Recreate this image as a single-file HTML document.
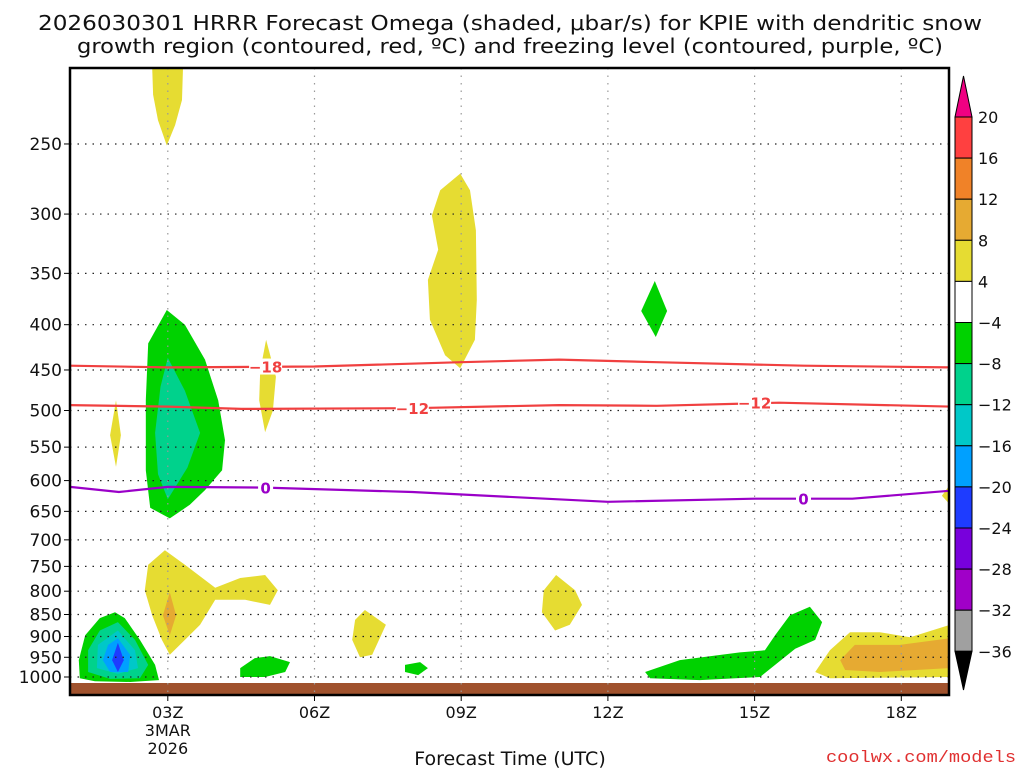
<!DOCTYPE html>
<html><head><meta charset="utf-8">
<style>
html,body{margin:0;padding:0;background:#fff;}
body{width:1024px;height:768px;overflow:hidden;font-family:"DejaVu Sans","Liberation Sans",sans-serif;}
svg text{font-family:"DejaVu Sans","Liberation Sans",sans-serif;}
</style></head>
<body>
<svg id="chart" width="1024" height="768" viewBox="0 0 1024 768" xmlns="http://www.w3.org/2000/svg">
<g>
<text x="510" y="30" font-size="20" text-anchor="middle" fill="#111" textLength="944" lengthAdjust="spacingAndGlyphs">2026030301 HRRR Forecast Omega (shaded, μbar/s) for KPIE with dendritic snow</text>
<text x="510" y="53" font-size="20" text-anchor="middle" fill="#111" textLength="866" lengthAdjust="spacingAndGlyphs">growth region (contoured, red, ºC) and freezing level (contoured, purple, ºC)</text>
</g>
<g id="plot"></g>
<g id="cbar"></g>
<text x="510" y="765" font-size="19" text-anchor="middle" fill="#111">Forecast Time (UTC)</text>
<text x="1016" y="762" font-size="17" text-anchor="end" fill="#e03030" style="font-family:'Liberation Mono',monospace" textLength="190" lengthAdjust="spacingAndGlyphs">coolwx.com/models</text>
</svg>
<script>
const NS="http://www.w3.org/2000/svg";
// axes data
const hourRange=[1,19];
const pressureTicks=[250,300,350,400,450,500,550,600,650,700,750,800,850,900,950,1000];
const hourTicks=[3,6,9,12,15,18];
const hourTickLabels=["03Z","06Z","09Z","12Z","15Z","18Z"];
// contour lines [hour, pressure]
const lineMinus18=[[1,445],[3,447],[6,446],[9,441],[11,438],[13,441],[16,445],[19,447]];
const lineMinus12=[[1,493],[3,495],[4.5,498],[8,497],[11,493],[13,494],[15.5,490],[19,495]];
const lineFreezing=[[1,610],[2,618],[3,610],[5,611],[8,618],[12,634],[15,629],[17,629],[19,616]];
const labelsMinus18=[[5,446]];
const labelsMinus12=[[8,497],[15,490]];
const labelsFreezing=[[5,611],[16,629]];
// omega shaded regions: [level, [[hour,pressure],...]]
const shadedRegions=[
 ["y",[[2.68,205],[3.31,205],[3.29,223],[3.15,238],[2.98,251],[2.80,235],[2.70,220]]],
 ["y",[[8.98,270],[9.18,282],[9.30,313],[9.32,375],[9.28,416],[8.98,448],[8.67,433],[8.36,395],[8.32,356],[8.53,329],[8.40,301],[8.57,282]]],
 ["g",[[12.96,357],[13.21,386],[12.98,413],[12.68,386]]],
 ["g",[[2.98,385],[3.35,400],[3.76,438],[4.03,487],[4.17,540],[4.11,584],[3.76,615],[3.45,639],[3.04,662],[2.64,644],[2.55,584],[2.55,487],[2.60,420]]],
 ["t",[[3.00,436],[3.35,475],[3.66,530],[3.40,580],[3.00,630],[2.80,590],[2.74,530],[2.85,470]]],
 ["y",[[1.94,487],[2.04,533],[1.94,579],[1.82,533]]],
 ["y",[[5.01,416],[5.21,458],[5.15,500],[4.99,529],[4.87,487],[4.89,451]]],
 ["y",[[2.94,719],[3.35,747],[3.97,793],[4.48,773],[4.99,767],[5.25,798],[5.09,829],[4.58,818],[3.97,818],[3.66,873],[3.35,908],[3.04,944],[2.88,908],[2.68,852],[2.53,798],[2.60,747]]],
 ["o",[[3.04,802],[3.17,852],[3.04,897],[2.90,852]]],
 ["g",[[1.92,845],[2.12,858],[2.43,908],[2.74,969],[2.82,1008],[2.23,1013],[1.51,1011],[1.20,1003],[1.18,957],[1.31,897],[1.61,858]]],
 ["t",[[1.98,867],[2.33,908],[2.60,969],[2.43,1003],[1.82,1005],[1.37,987],[1.37,933],[1.61,886]]],
 ["c",[[1.98,886],[2.33,933],[2.39,977],[1.98,992],[1.55,977],[1.57,920]]],
 ["b",[[1.98,904],[2.23,944],[2.19,987],[1.82,987],[1.67,957],[1.78,920]]],
 ["d",[[1.98,915],[2.10,957],[1.98,987],[1.86,957]]],
 ["g",[[4.48,977],[4.78,952],[5.09,947],[5.50,962],[5.40,987],[4.99,1000],[4.48,1000]]],
 ["y",[[7.03,840],[7.46,873],[7.18,944],[6.93,950],[6.77,908],[6.83,862]]],
 ["g",[[7.85,969],[8.16,962],[8.32,977],[8.12,995],[7.85,987]]],
 ["y",[[10.94,767],[11.33,798],[11.47,829],[11.22,873],[10.92,886],[10.65,845],[10.69,798]]],
 ["g",[[12.76,987],[13.47,957],[14.70,938],[15.21,933],[15.42,897],[15.72,852],[16.13,833],[16.38,867],[16.24,908],[15.83,929],[15.42,969],[15.11,1000],[13.88,1008],[12.86,1003]]],
 ["y",[[16.24,987],[16.54,933],[16.95,890],[17.56,890],[18.18,902],[19,873],[19,1000],[16.54,1003]]],
 ["o",[[16.75,957],[17.05,920],[17.97,920],[19,904],[19,977],[17.56,987],[16.85,982]]],
 ["y",[[19,606],[18.83,624],[19,639]]]
];
const levelColors={y:"#e6dc32",o:"#e6aa32",g:"#00d200",t:"#00d28c",c:"#00c8c8",b:"#00a0ff",d:"#1e3cff"};
// colorbar data
const cbarLabels=["20","16","12","8","4","−4","−8","−12","−16","−20","−24","−28","−32","−36"];
const cbarColors=["#ff4040","#f08228","#e6aa32","#e6dc32","#ffffff","#00d200","#00d28c","#00c8c8","#00a0ff","#1e3cff","#7800dc","#a000c8","#a0a0a0"];

const L=70,R=949,T=68,B=695;
function xS(h){return L+(h-hourRange[0])*48.9;}
function yS(p){return 677-384.5*Math.log(1000/p);}
function mk(tag,attrs,parent){const e=document.createElementNS(NS,tag);for(const k in attrs)e.setAttribute(k,attrs[k]);parent.appendChild(e);return e;}
const plot=document.getElementById('plot');
const defs=mk('defs',{},plot);
const cp=mk('clipPath',{id:'clip'},defs);
mk('rect',{x:L,y:T,width:R-L,height:B-T},cp);
const inner=mk('g',{'clip-path':'url(#clip)'},plot);
shadedRegions.forEach((r,i)=>{
 const d=r[1].map((q,j)=>(j?'L':'M')+xS(q[0]).toFixed(1)+','+yS(q[1]).toFixed(1)).join(' ')+'Z';
 const e=mk('path',{d:d,fill:levelColors[r[0]]},inner);
 
 
});
const g=mk('rect',{x:L,y:683,width:R-L,height:B-683,fill:'#a0522d'},inner);


pressureTicks.forEach(p=>{
 const y=yS(p);
 const gl=mk('line',{x1:L,x2:R,y1:y,y2:y,stroke:'#222','stroke-width':1.2,'stroke-dasharray':'1.5 6'},inner);
 
 
 mk('line',{x1:L-6,x2:L,y1:y,y2:y,stroke:'#000'},plot);
 const t=mk('text',{x:L-8,y:y+6,'font-size':17,'text-anchor':'end',fill:'#111'},plot);
 t.textContent=p;
 
 
});
hourTicks.forEach((h,i)=>{
 const x=xS(h);
 const gl=mk('line',{x1:x,x2:x,y1:T,y2:B,stroke:'#999','stroke-width':1.2,'stroke-dasharray':'1.5 6'},inner);
 
 
 mk('line',{x1:x,x2:x,y1:B,y2:B+6,stroke:'#000'},plot);
 const t=mk('text',{x:x,y:B+23,'font-size':16,'text-anchor':'middle',fill:'#111'},plot);
 t.textContent=hourTickLabels[i];
 
 
});
[["3MAR",B+41],["2026",B+59]].forEach(a=>{
 const t=mk('text',{x:xS(3),y:a[1],'font-size':16,'text-anchor':'middle',fill:'#111'},plot);
 t.textContent=a[0];
 
 
});
function drawLine(pts,color,name,labels,txt){
 const d=pts.map((q,j)=>(j?'L':'M')+xS(q[0]).toFixed(1)+','+yS(q[1]).toFixed(1)).join(' ');
 const e=mk('path',{d:d,fill:'none',stroke:color,'stroke-width':2.2},inner);
 
 
 labels.forEach(q=>{
  const x=xS(q[0]),y=yS(q[1]);
  const w=txt.length*9+6;
  mk('rect',{x:x-w/2,y:y-8,width:w,height:16,fill:'#fff'},inner);
  const t=mk('text',{x:x,y:y+6,'font-size':15,'font-weight':'bold','text-anchor':'middle',fill:color},inner);
  t.textContent=txt;
  
  
 });
}
drawLine(lineMinus18,'#f04040','contour-minus18',labelsMinus18,'−18');
drawLine(lineMinus12,'#f04040','contour-minus12',labelsMinus12,'−12');
drawLine(lineFreezing,'#9a00c8','freezing-level-contour',labelsFreezing,'0');
const fr=mk('rect',{x:L,y:T,width:R-L,height:B-T,fill:'none',stroke:'#000','stroke-width':2.5},plot);


const cb=document.getElementById('cbar');
const cx=955,cw=17,top0=117,step=41.1;
mk('polygon',{points:`${cx},${top0} ${cx+cw},${top0} ${cx+cw/2},76`,fill:'#f00082',stroke:'#000'},cb);
cbarColors.forEach((c,i)=>{
 const r=mk('rect',{x:cx,y:top0+i*step,width:cw,height:step,fill:c,stroke:'#000','stroke-width':1},cb);
 
 
});
const bot=top0+cbarColors.length*step;
mk('polygon',{points:`${cx},${bot} ${cx+cw},${bot} ${cx+cw/2},690`,fill:'#000',stroke:'#000'},cb);
cbarLabels.forEach((s,i)=>{
 const t=mk('text',{x:978,y:top0+i*step+6,'font-size':16,fill:'#111'},cb);
 t.textContent=s;
 
 
});
</script>
</body></html>
